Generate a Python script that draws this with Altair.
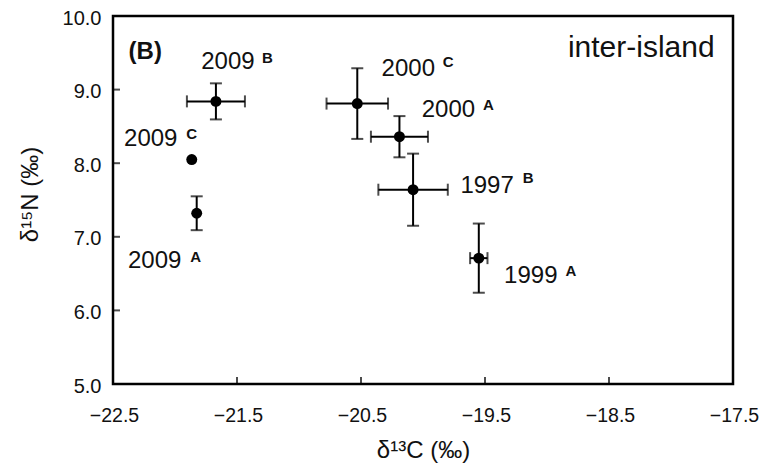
import altair as alt
import pandas as pd

# ---- data ----
years = ["2009", "2009", "2009", "2000", "2000", "1997", "1999"]
letters = ["B", "C", "A", "C", "A", "B", "A"]
d13C = [-21.67, -21.865, -21.825, -20.53, -20.19, -20.08, -19.55]
d15N = [8.84, 8.05, 7.32, 8.81, 8.36, 7.64, 6.71]
sd13C = [0.234, 0.0, 0.0, 0.248, 0.23, 0.28, 0.07]
sd15N = [0.245, 0.0, 0.23, 0.48, 0.28, 0.49, 0.47]

x_ticks = [-22.5, -21.5, -20.5, -19.5, -18.5, -17.5]
y_ticks = [5.0, 6.0, 7.0, 8.0, 9.0, 10.0]

# label placement offsets (pixels, relative to point): year text, superscript letter
year_dx = [12, -41, -42, 51, 49, 74, 52]
year_dy = [-39, -21, 48, -35, -27, -3.5, 18]
let_dx = [51.5, 0, -1, 91, 89, 115, 92]
let_dy = [-43, -26, 44, -42, -32, -12, 13]

df = pd.DataFrame({
    "idx": list(range(len(years))),
    "year": years, "letter": letters,
    "x": d13C, "y": d15N, "ex": sd13C, "ey": sd15N,
})
df["xlo"] = df["x"] - df["ex"]
df["xhi"] = df["x"] + df["ex"]
df["ylo"] = df["y"] - df["ey"]
df["yhi"] = df["y"] + df["ey"]

xs = alt.Scale(domain=[-22.5, -17.5], nice=False, zero=False)
ys = alt.Scale(domain=[5.0, 10.0], nice=False, zero=False)

FONT = "Liberation Sans"
TITLE_FONT = "Liberation Sans Narrow, Liberation Sans"

base = alt.Chart(df)

xaxis = alt.Axis(values=x_ticks, format=".1f", title="δ¹³C (‰)", grid=False,
                 domain=False, ticks=False, labelFontSize=19.5, labelFont=FONT,
                 labelColor="#111", labelPadding=22, labelOffset=1, labelFlush=False,
                 labelOverlap=False, titleFont=TITLE_FONT,
                 titleFontSize=24, titleFontWeight="normal", titleColor="#111",
                 titleBaseline="middle", titleY=66)
yaxis = alt.Axis(values=y_ticks, format=".1f", title="δ¹⁵N (‰)", grid=False,
                 domain=False, ticks=False, labelFontSize=20, labelFont=FONT,
                 labelColor="#111", labelPadding=12, labelOffset=2, labelFlush=False,
                 labelOverlap=False, titleFont=TITLE_FONT,
                 titleFontSize=24, titleFontWeight="normal", titleColor="#111",
                 titleBaseline="middle", titleX=-83, titleY=178, titleAngle=-90)

xerr = base.transform_filter("datum.ex > 0").mark_rule(color="black", strokeWidth=2).encode(
    x=alt.X("xlo:Q", scale=xs, axis=xaxis), x2="xhi:Q", y=alt.Y("y:Q", scale=ys, axis=yaxis))
yerr = base.transform_filter("datum.ey > 0").mark_rule(color="black", strokeWidth=2).encode(
    x=alt.X("x:Q", scale=xs), y=alt.Y("ylo:Q", scale=ys), y2="yhi:Q")

xcap_lo = base.transform_filter("datum.ex > 0").mark_tick(
    color="black", thickness=2, size=12, orient="vertical").encode(
    x=alt.X("xlo:Q", scale=xs), y=alt.Y("y:Q", scale=ys))
xcap_hi = base.transform_filter("datum.ex > 0").mark_tick(
    color="black", thickness=2, size=12, orient="vertical").encode(
    x=alt.X("xhi:Q", scale=xs), y=alt.Y("y:Q", scale=ys))
ycap_lo = base.transform_filter("datum.ey > 0").mark_tick(
    color="black", thickness=2, size=12, orient="horizontal").encode(
    x=alt.X("x:Q", scale=xs), y=alt.Y("ylo:Q", scale=ys))
ycap_hi = base.transform_filter("datum.ey > 0").mark_tick(
    color="black", thickness=2, size=12, orient="horizontal").encode(
    x=alt.X("x:Q", scale=xs), y=alt.Y("yhi:Q", scale=ys))

points = base.mark_circle(color="black", opacity=1, size=120).encode(
    x=alt.X("x:Q", scale=xs), y=alt.Y("y:Q", scale=ys))

# inward axis ticks
xt = alt.Chart(pd.DataFrame({"v": x_ticks})).mark_tick(
    color="black", thickness=2, size=7, orient="vertical", yOffset=-3.5).encode(
    x=alt.X("v:Q", scale=xs), y=alt.datum(5.0))
yt = alt.Chart(pd.DataFrame({"v": y_ticks})).mark_tick(
    color="black", thickness=2, size=7, orient="horizontal", xOffset=3.5).encode(
    y=alt.Y("v:Q", scale=ys), x=alt.datum(-22.5))

labels = []
for i in range(len(years)):
    sub = base.transform_filter(f"datum.idx == {i}")
    labels.append(sub.mark_text(font=FONT, fontSize=24, color="#111", align="center",
                                baseline="middle", dx=year_dx[i], dy=year_dy[i]).encode(
        x=alt.X("x:Q", scale=xs), y=alt.Y("y:Q", scale=ys), text="year:N"))
    labels.append(sub.mark_text(font=FONT, fontSize=15, fontWeight="bold", color="#111",
                                align="center", baseline="middle", dx=let_dx[i], dy=let_dy[i]).encode(
        x=alt.X("x:Q", scale=xs), y=alt.Y("y:Q", scale=ys), text="letter:N"))

panel = alt.Chart(pd.DataFrame({"x": [-22.24], "y": [9.515], "t": ["(B)"]})).mark_text(
    font=FONT, fontSize=24, fontWeight="bold", color="#111", align="center", baseline="middle").encode(
    x=alt.X("x:Q", scale=xs), y=alt.Y("y:Q", scale=ys), text="t:N")
site = alt.Chart(pd.DataFrame({"x": [-18.24], "y": [9.565], "t": ["inter-island"]})).mark_text(
    font=FONT, fontSize=30, color="#111", align="center", baseline="middle").encode(
    x=alt.X("x:Q", scale=xs), y=alt.Y("y:Q", scale=ys), text="t:N")

chart = alt.layer(xerr, yerr, xcap_lo, xcap_hi, ycap_lo, ycap_hi, points, xt, yt,
                  panel, site, *labels).properties(
    width=620, height=368,
    background="white",
    autosize=alt.AutoSizeParams(type="none"),
    padding={"left": 105, "top": 8, "right": 27, "bottom": 79},
).configure_view(stroke="black", strokeWidth=2.5)

chart.save("out.html", embed_options={"renderer": "svg", "actions": False})
